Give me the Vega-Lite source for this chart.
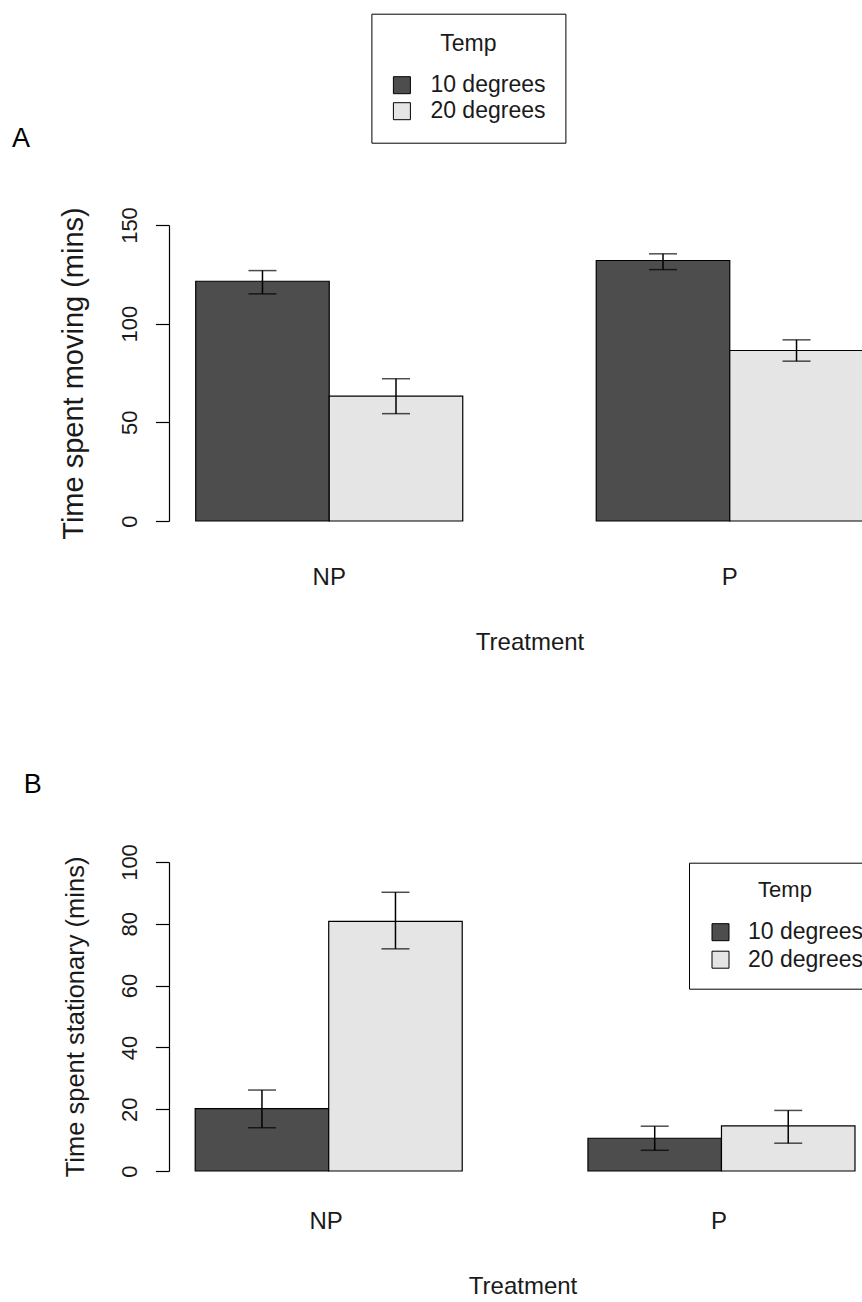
{
  "$schema": "https://vega.github.io/schema/vega-lite/v6.json",
  "padding": {"left": 12, "top": 13, "right": 0, "bottom": 0},
  "background": "white",
  "spacing": 116,
  "config": {
    "font": "Liberation Sans",
    "view": {"stroke": null},
    "axis": {"grid": false, "domainColor": "black", "tickColor": "black", "labelColor": "#1a1a1a", "titleColor": "#1a1a1a", "labelFont": "Liberation Sans", "titleFont": "Liberation Sans", "titleFontWeight": "normal"},
    "legend": {"labelFont": "Liberation Sans", "titleFont": "Liberation Sans", "titleFontWeight": "normal", "labelColor": "#1a1a1a", "titleColor": "#1a1a1a"},
    "title": {"fontWeight": "normal", "color": "black", "font": "Liberation Sans"}
  },
  "datasets": {
    "moving": [
      {"Treatment": "NP", "Temp": "10 degrees", "mean": 121.5, "lo": 115.1, "hi": 126.9},
      {"Treatment": "NP", "Temp": "20 degrees", "mean": 63.3, "lo": 54.4, "hi": 72.1},
      {"Treatment": "P", "Temp": "10 degrees", "mean": 132.0, "lo": 127.4, "hi": 135.4},
      {"Treatment": "P", "Temp": "20 degrees", "mean": 86.4, "lo": 81.0, "hi": 91.8}
    ],
    "stationary": [
      {"Treatment": "NP", "Temp": "10 degrees", "mean": 20.2, "lo": 14.0, "hi": 26.2},
      {"Treatment": "NP", "Temp": "20 degrees", "mean": 80.8, "lo": 71.9, "hi": 90.2},
      {"Treatment": "P", "Temp": "10 degrees", "mean": 10.6, "lo": 6.7, "hi": 14.5},
      {"Treatment": "P", "Temp": "20 degrees", "mean": 14.6, "lo": 9.0, "hi": 19.6}
    ]
  },
  "resolve": {"scale": {"color": "independent"}, "legend": {"color": "independent"}},
  "vconcat": [
    {
      "width": 721,
      "height": 296,
      "data": {"name": "moving"},
      "title": {"text": "A", "anchor": "start", "frame": "group", "dx": -157, "offset": -161, "fontSize": 27, "baseline": "alphabetic"},
      "encoding": {
        "x": {"field": "Treatment", "type": "nominal", "title": "Treatment",
          "scale": {"paddingInner": 0.3333, "paddingOuter": 0.0667},
          "axis": {"domain": false, "ticks": false, "tickSize": 0, "labelAngle": 0, "labelFontSize": 24, "labelPadding": 44, "titleFontSize": 24, "titlePadding": 41}},
        "xOffset": {"field": "Temp", "type": "nominal", "scale": {"paddingInner": 0, "paddingOuter": 0}}
      },
      "layer": [
        {
          "mark": {"type": "bar", "stroke": "black", "strokeWidth": 1.2},
          "encoding": {
            "y": {"field": "mean", "type": "quantitative", "title": "Time spent moving (mins)",
              "scale": {"domain": [0, 150], "nice": false},
              "axis": {"values": [0, 50, 100, 150], "labelAngle": 270, "labelAlign": "center", "labelBaseline": "alphabetic", "labelFontSize": 22, "labelPadding": 19, "tickSize": 13.6, "tickWidth": 1.2, "domainWidth": 1.2, "titleFontSize": 29, "titlePadding": 30}},
            "color": {"field": "Temp", "type": "nominal",
              "scale": {"domain": ["10 degrees", "20 degrees"], "range": ["#4d4d4d", "#e5e5e5"]},
              "legend": {"orient": "none", "legendX": 202.4, "legendY": -211.3, "title": "Temp", "titleFontSize": 23, "titleAnchor": "middle", "titleAlign": "center", "labelFontSize": 23, "symbolType": "square", "symbolSize": 289, "symbolStrokeColor": "black", "symbolStrokeWidth": 1, "strokeColor": "black", "fillColor": "white", "padding": 19, "symbolOffset": 0, "labelOffset": 17, "rowPadding": 2, "titlePadding": 18}}
          }
        },
        {
          "mark": {"type": "rule", "color": "black", "strokeWidth": 1.5},
          "encoding": {"y": {"field": "lo", "type": "quantitative"}, "y2": {"field": "hi"}}
        },
        {
          "mark": {"type": "tick", "color": "black", "size": 28, "thickness": 1.5},
          "encoding": {"y": {"field": "hi", "type": "quantitative"}}
        },
        {
          "mark": {"type": "tick", "color": "black", "size": 28, "thickness": 1.5},
          "encoding": {"y": {"field": "lo", "type": "quantitative"}}
        }
      ]
    },
    {
      "width": 707,
      "height": 309,
      "data": {"name": "stationary"},
      "title": {"text": "B", "anchor": "start", "frame": "group", "dx": -145.3, "offset": 24, "fontSize": 27, "baseline": "alphabetic"},
      "encoding": {
        "x": {"field": "Treatment", "type": "nominal", "title": "Treatment",
          "scale": {"paddingInner": 0.3333, "paddingOuter": 0.0667},
          "axis": {"domain": false, "ticks": false, "tickSize": 0, "labelAngle": 0, "labelFontSize": 24, "labelPadding": 38, "titleFontSize": 24, "titlePadding": 41}},
        "xOffset": {"field": "Temp", "type": "nominal", "scale": {"paddingInner": 0, "paddingOuter": 0}}
      },
      "layer": [
        {
          "mark": {"type": "bar", "stroke": "black", "strokeWidth": 1.2},
          "encoding": {
            "y": {"field": "mean", "type": "quantitative", "title": "Time spent stationary (mins)",
              "scale": {"domain": [0, 100], "nice": false},
              "axis": {"values": [0, 20, 40, 60, 80, 100], "labelAngle": 270, "labelAlign": "center", "labelBaseline": "alphabetic", "labelFontSize": 22, "labelPadding": 19, "tickSize": 13.6, "tickWidth": 1.2, "domainWidth": 1.2, "titleFontSize": 25.5, "titlePadding": 30}},
            "color": {"field": "Temp", "type": "nominal",
              "scale": {"domain": ["10 degrees", "20 degrees"], "range": ["#4d4d4d", "#e5e5e5"]},
              "legend": {"orient": "none", "legendX": 520, "legendY": 0.7, "title": "Temp", "titleFontSize": 22, "titleAnchor": "middle", "titleAlign": "center", "labelFontSize": 23, "symbolType": "square", "symbolSize": 289, "symbolStrokeColor": "black", "symbolStrokeWidth": 1, "strokeColor": "black", "fillColor": "white", "padding": 17, "symbolOffset": 3, "labelOffset": 16, "rowPadding": 3.5, "titlePadding": 19}}
          }
        },
        {
          "mark": {"type": "rule", "color": "black", "strokeWidth": 1.5},
          "encoding": {"y": {"field": "lo", "type": "quantitative"}, "y2": {"field": "hi"}}
        },
        {
          "mark": {"type": "tick", "color": "black", "size": 28, "thickness": 1.5},
          "encoding": {"y": {"field": "hi", "type": "quantitative"}}
        },
        {
          "mark": {"type": "tick", "color": "black", "size": 28, "thickness": 1.5},
          "encoding": {"y": {"field": "lo", "type": "quantitative"}}
        }
      ]
    }
  ]
}
